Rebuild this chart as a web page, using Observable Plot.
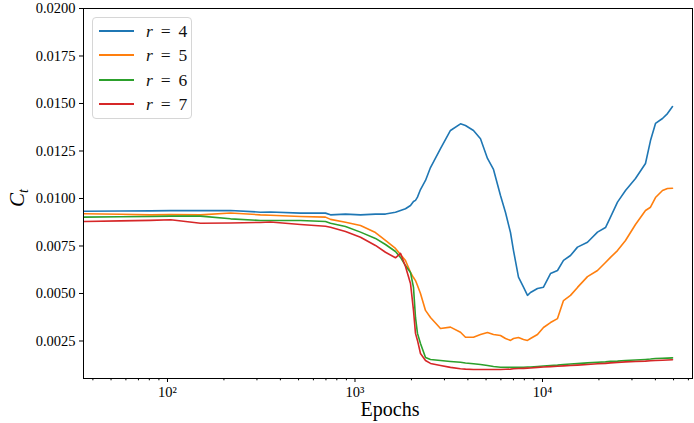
<!DOCTYPE html>
<html><head><meta charset="utf-8">
<script src="https://cdn.jsdelivr.net/npm/d3@7"></script>
<script src="https://cdn.jsdelivr.net/npm/@observablehq/plot@0.6"></script>
<style>
body{margin:0;background:#fff;}
#chart{position:relative;width:694px;height:423px;font-family:"Liberation Serif","DejaVu Serif",serif;}
#legend{position:absolute;left:92px;top:17px;width:100px;height:102px;box-sizing:border-box;border:1px solid #d6d6d6;border-radius:4px;background:rgba(255,255,255,0.85);}
.item{position:absolute;left:0;width:100px;height:20px;}
.item .sw{position:absolute;left:6px;top:9px;width:35px;height:2px;}
.item .lb{position:absolute;left:53px;top:0;font-family:"Liberation Serif","DejaVu Serif",serif;font-size:17.5px;line-height:20px;color:#111;white-space:nowrap;}
</style>
</head><body>
<div id="chart"><div id="legend"></div></div>
<script>
const epochs = [30, 36, 56, 81, 104, 150, 217, 313, 354, 512, 696, 740, 890, 1070, 1286, 1454, 1644, 1749, 1859, 1977, 2051, 2102, 2154, 2235, 2377, 2527, 2858, 3230, 3653, 3884, 4285, 4670, 5089, 5479, 5970, 6350, 6750, 7005, 7447, 7919, 8318, 8630, 9404, 10123, 11033, 12023, 12942, 14105, 15372, 17378, 19650, 21677, 23050, 25119, 27715, 31333, 35424, 37670, 40060, 43652, 46416, 49360];
const r4 = [0.00933, 0.00933, 0.00934, 0.00935, 0.00936, 0.00936, 0.00937, 0.00928, 0.00929, 0.00923, 0.00923, 0.00914, 0.00918, 0.00914, 0.00918, 0.00918, 0.00928, 0.00937, 0.00946, 0.00963, 0.00984, 0.00990, 0.01007, 0.01047, 0.01095, 0.01163, 0.01263, 0.01358, 0.01393, 0.01384, 0.01358, 0.01314, 0.01211, 0.01153, 0.01016, 0.00926, 0.00821, 0.00726, 0.00586, 0.00533, 0.00490, 0.00505, 0.00526, 0.00533, 0.00605, 0.00621, 0.00674, 0.00700, 0.00744, 0.00770, 0.00823, 0.00847, 0.00902, 0.00981, 0.01042, 0.01105, 0.01184, 0.01305, 0.01395, 0.01421, 0.01447, 0.01484];
const r5 = [0.00920, 0.00920, 0.00917, 0.00914, 0.00915, 0.00914, 0.00924, 0.00914, 0.00912, 0.00905, 0.00902, 0.00890, 0.00875, 0.00858, 0.00821, 0.00779, 0.00737, 0.00705, 0.00674, 0.00611, 0.00584, 0.00568, 0.00542, 0.00500, 0.00411, 0.00374, 0.00316, 0.00323, 0.00296, 0.00270, 0.00270, 0.00284, 0.00295, 0.00284, 0.00279, 0.00263, 0.00253, 0.00263, 0.00268, 0.00258, 0.00253, 0.00263, 0.00284, 0.00321, 0.00347, 0.00368, 0.00463, 0.00490, 0.00532, 0.00589, 0.00621, 0.00663, 0.00690, 0.00726, 0.00779, 0.00863, 0.00937, 0.00954, 0.01005, 0.01042, 0.01053, 0.01054];
const r6 = [0.00902, 0.00902, 0.00904, 0.00905, 0.00907, 0.00907, 0.00893, 0.00884, 0.00884, 0.00884, 0.00879, 0.00870, 0.00853, 0.00823, 0.00790, 0.00758, 0.00721, 0.00690, 0.00647, 0.00611, 0.00532, 0.00374, 0.00290, 0.00237, 0.00163, 0.00153, 0.00147, 0.00142, 0.00138, 0.00134, 0.00130, 0.00126, 0.00121, 0.00116, 0.00112, 0.00112, 0.00112, 0.00112, 0.00112, 0.00112, 0.00113, 0.00113, 0.00116, 0.00118, 0.00121, 0.00123, 0.00126, 0.00129, 0.00131, 0.00135, 0.00138, 0.00140, 0.00143, 0.00144, 0.00147, 0.00150, 0.00153, 0.00155, 0.00158, 0.00159, 0.00160, 0.00161];
const r7 = [0.00879, 0.00879, 0.00882, 0.00885, 0.00888, 0.00870, 0.00871, 0.00874, 0.00876, 0.00863, 0.00854, 0.00849, 0.00826, 0.00796, 0.00753, 0.00717, 0.00688, 0.00711, 0.00642, 0.00553, 0.00411, 0.00290, 0.00253, 0.00184, 0.00147, 0.00132, 0.00121, 0.00111, 0.00104, 0.00102, 0.00100, 0.00100, 0.00100, 0.00100, 0.00100, 0.00101, 0.00102, 0.00104, 0.00105, 0.00106, 0.00107, 0.00108, 0.00111, 0.00113, 0.00115, 0.00117, 0.00119, 0.00121, 0.00123, 0.00126, 0.00130, 0.00132, 0.00135, 0.00137, 0.00140, 0.00142, 0.00144, 0.00146, 0.00147, 0.00149, 0.00150, 0.00151];
const seriesR = [4, 5, 6, 7];
const colors = ["#1f77b4", "#ff7f0e", "#2ca02c", "#d62728"];
const yTicks = [0.0025, 0.0050, 0.0075, 0.0100, 0.0125, 0.0150, 0.0175, 0.0200];
const xMajor = [100, 1000, 10000];
const xMinor = [40, 50, 60, 70, 80, 90, 200, 300, 400, 500, 600, 700, 800, 900, 2000, 3000, 4000, 5000, 6000, 7000, 8000, 9000, 20000, 30000, 40000, 50000, 60000];
const xLabel = "Epochs";

const rows = [];
[r4, r5, r6, r7].forEach((vals, k) => vals.forEach((v, i) => rows.push({epoch: epochs[i], value: v, r: seriesR[k]})));
const sup = {"2": "\u00b2", "3": "\u00b3", "4": "\u2074"};

const plot = Plot.plot({
  width: 694, height: 423,
  marginLeft: 83, marginRight: 2, marginTop: 8, marginBottom: 45,
  style: {fontFamily: '"Liberation Serif","DejaVu Serif",serif', fontSize: "14.5px", color: "#000", background: "#fff", overflow: "visible"},
  x: {type: "log", domain: [35.65, 63100]},
  y: {domain: [0.000526, 0.02]},
  color: {domain: seriesR, range: colors},
  marks: [
    Plot.line(rows, {x: "epoch", y: "value", z: "r", stroke: "r", strokeWidth: 1.6, clip: true}),
    Plot.frame({stroke: "#000", strokeWidth: 1}),
    Plot.axisY({ticks: yTicks, tickFormat: d => d.toFixed(4), tickSize: 4, tickPadding: 4, label: null}),
    Plot.axisX({ticks: xMinor, tickFormat: () => "", tickSize: 2.3, label: null}),
    Plot.axisX({ticks: xMajor, tickFormat: d => "10" + sup[String(Math.round(Math.log10(d)))], tickSize: 4, tickPadding: 4, label: null})
  ]
});
document.getElementById("chart").prepend(plot);

const svg = d3.select(plot);
svg.append("text").attr("x", 390).attr("y", 416).attr("text-anchor", "middle")
  .attr("font-size", "20px").attr("fill", "#000").text(xLabel);
const yl = svg.append("text").attr("transform", "translate(24,198) rotate(-90)").attr("text-anchor", "middle")
  .attr("font-size", "21px").attr("fill", "#000").attr("font-style", "italic");
yl.append("tspan").text("C");
yl.append("tspan").attr("font-size", "14px").attr("dy", "4").text("t");

const legend = d3.select("#legend");
seriesR.forEach((r, k) => {
  const it = legend.append("div").attr("class", "item").style("top", (3 + k * 24.4) + "px");
  it.append("div").attr("class", "sw").style("background", colors[k]);
  it.append("div").attr("class", "lb").html("<i>r</i>&thinsp; = &thinsp;" + r);
});
</script>
</body></html>
